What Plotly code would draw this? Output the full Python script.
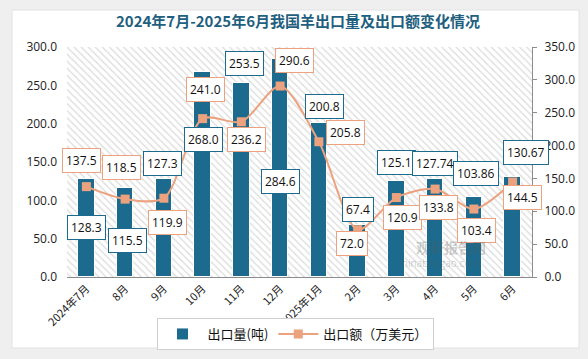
import plotly.graph_objects as go

categories = ["2024年7月", "8月", "9月", "10月", "11月", "12月", "2025年1月",
              "2月", "3月", "4月", "5月", "6月"]
volume_t = [128.3, 115.5, 127.3, 268.0, 253.5, 284.6, 200.8, 67.4, 125.1, 127.74, 103.86, 130.67]
volume_labels = ["128.3", "115.5", "127.3", "268.0", "253.5", "284.6", "200.8", "67.4",
                 "125.1", "127.74", "103.86", "130.67"]
value_wusd = [137.5, 118.5, 119.9, 241.0, 236.2, 290.6, 205.8, 72.0, 120.9, 133.8, 103.4, 144.5]
value_labels = ["137.5", "118.5", "119.9", "241.0", "236.2", "290.6", "205.8", "72.0",
                "120.9", "133.8", "103.4", "144.5"]
left_ticks = [0, 50, 100, 150, 200, 250, 300]
right_ticks = [0, 50, 100, 150, 200, 250, 300, 350]

# label box offsets (pixels) relative to the data point
bar_dx = [0, 2, -1, 1, 3, 0, 6, 0, 0, 0, 2, 13]
bar_dy = [-49, -52, 16, -68, 19, -123, 17, 16, 19, 16, 24, 24]
line_dx = [-5, -4, 4, 3, 5, 14, 27, -6, 6, 3, 3, 10]
line_dy = [26, 32, -24, 29, -18, 26, 9, -14, -20, -18, -21, -15]

BAR = "#1c6b8e"
LINE = "#eca27e"
FONT = "Open Sans, Noto Sans CJK SC, sans-serif"
CJK = "Noto Sans CJK SC, sans-serif"

W, H = 588, 359
L, R, T, B = 67, 56, 47, 82
pw, ph = W - L - R, H - T - B

def px_x(x):
    return (x - L) / pw

def px_y(y):
    return (H - B - y) / ph

xs = list(range(len(categories)))

fig = go.Figure()
# hatched plot background
fig.add_trace(go.Bar(x=[(len(xs) - 1) / 2], y=[left_ticks[-1]], width=[len(xs)],
                     marker=dict(color="white", line=dict(width=0),
                                 pattern=dict(shape="\\", fgcolor="#b8b8b8", bgcolor="white",
                                              size=5, solidity=0.25)),
                     showlegend=False, hoverinfo="skip"))
fig.add_trace(go.Bar(x=xs, y=volume_t, width=0.42, name="出口量(吨)",
                     marker=dict(color=BAR, line=dict(color="white", width=1))))
fig.add_trace(go.Scatter(x=xs, y=value_wusd, yaxis="y2", name="出口额（万美元）",
                         mode="lines+markers",
                         line=dict(color=LINE, width=2, shape="spline", smoothing=0.8),
                         marker=dict(symbol="square", size=9, color=LINE)))

anns = []
for i in xs:
    anns.append(dict(x=i, y=volume_t[i], xref="x", yref="y", text=volume_labels[i],
                     showarrow=False, xshift=bar_dx[i], yshift=bar_dy[i],
                     bgcolor="white", bordercolor=BAR, borderwidth=1, borderpad=3,
                     font=dict(family=FONT, size=12, color="#111")))
    anns.append(dict(x=i, y=value_wusd[i], xref="x", yref="y2", text=value_labels[i],
                     showarrow=False, xshift=line_dx[i], yshift=line_dy[i],
                     bgcolor="white", bordercolor=LINE, borderwidth=1, borderpad=3,
                     font=dict(family=FONT, size=12, color="#111")))
# watermark
anns.append(dict(x=px_x(488), y=px_y(259), xref="paper", yref="paper", text="<b>观研报告网</b>",
                 showarrow=False, font=dict(family=CJK, size=14, color="rgba(90,90,90,0.3)")))
anns.append(dict(x=px_x(482), y=px_y(272), xref="paper", yref="paper", text="chinabaogao.com",
                 showarrow=False, font=dict(family=FONT, size=10, color="rgba(90,90,90,0.3)")))

shapes = [
    dict(type="rect", xref="paper", yref="paper", layer="below",
         x0=px_x(12), x1=px_x(579), y0=px_y(348), y1=px_y(10),
         fillcolor="white", line=dict(color="#e2e2e2", width=1)),
]

fig.update_layout(
    width=W, height=H,
    margin=dict(l=L, r=R, t=T, b=B),
    paper_bgcolor="#efefef", plot_bgcolor="rgba(0,0,0,0)",
    barmode="overlay", bargap=0,
    title=dict(text="<b>2024年7月-2025年6月我国羊出口量及出口额变化情况</b>",
               x=298 / W, xanchor="center", y=1 - 22 / H, yanchor="middle",
               font=dict(family=CJK, size=15, color="#1f5f80")),
    xaxis=dict(range=[-0.5, len(xs) - 0.5], tickmode="array", tickvals=xs, ticktext=categories,
               tickangle=-45, showgrid=False, zeroline=False, showline=True,
               linecolor="#8c8c8c", linewidth=1, ticks="", automargin=False,
               tickfont=dict(family=CJK, size=11, color="#222")),
    yaxis=dict(range=[0, 300], tickvals=left_ticks, tickformat=".1f", showgrid=False,
               zeroline=False, showline=False, ticks="", automargin=False,
               ticklabelstandoff=9,
               tickfont=dict(family=FONT, size=12, color="#222")),
    yaxis2=dict(range=[0, 350], tickvals=right_ticks, tickformat=".1f", overlaying="y",
                side="right", showgrid=False, zeroline=False, showline=True,
                linecolor="#8c8c8c", linewidth=1, ticks="outside", ticklen=4,
                tickcolor="#8c8c8c", automargin=False, ticklabelstandoff=5,
                tickfont=dict(family=FONT, size=12, color="#222")),
    legend=dict(orientation="h", xref="container", yref="container",
                x=295 / W, xanchor="center", y=1 - 318 / H, yanchor="top",
                bordercolor="#d0d0d0", borderwidth=1, bgcolor="white",
                font=dict(family=CJK, size=13, color="#111"), itemwidth=40),
    annotations=anns, shapes=shapes,
)

fig.write_html("out.html", config={"displayModeBar": False},
               post_script="document.body.style.margin='0';")
